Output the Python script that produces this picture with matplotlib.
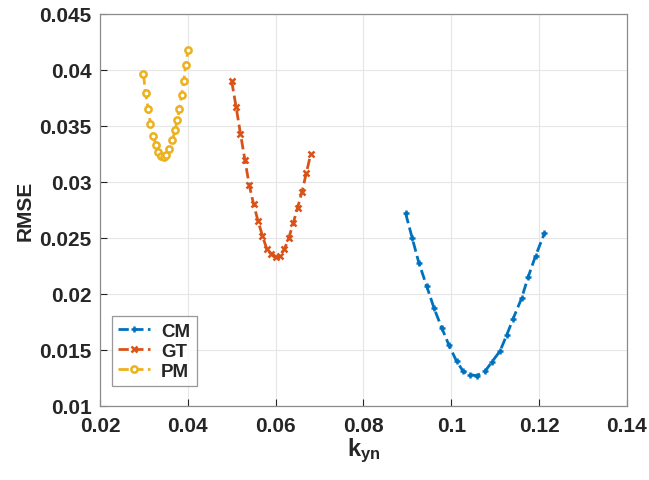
import matplotlib
matplotlib.use('Agg')
import matplotlib.pyplot as plt
import numpy as np

# RMSE against k_yn for the three models
cm_k = [0.0896, 0.0911, 0.0926, 0.0944, 0.0961, 0.0978, 0.0995, 0.1012, 0.1027, 0.1042,
        0.1058, 0.1077, 0.1092, 0.1111, 0.1126, 0.1141, 0.1160, 0.1175, 0.1192, 0.1212]
cm_rmse = [0.0272, 0.0250, 0.0228, 0.0207, 0.0187, 0.0170, 0.0154, 0.0140, 0.0131, 0.0128,
           0.0127, 0.0131, 0.0139, 0.0149, 0.0163, 0.0178, 0.0196, 0.0215, 0.0234, 0.0254]

gt_k = [0.050, 0.051, 0.052, 0.053, 0.054, 0.055, 0.056, 0.057, 0.058, 0.059,
        0.060, 0.061, 0.062, 0.063, 0.064, 0.065, 0.066, 0.067, 0.068]
gt_rmse = [0.0390, 0.0367, 0.0343, 0.0320, 0.0297, 0.0280, 0.0265, 0.0252, 0.0240, 0.0236,
           0.0233, 0.0234, 0.0240, 0.0250, 0.0263, 0.0277, 0.0291, 0.0308, 0.0325]

pm_k = [0.0299, 0.0304, 0.0310, 0.0315, 0.0321, 0.0328, 0.0333, 0.0339, 0.0345, 0.0351,
        0.0358, 0.0365, 0.0371, 0.0376, 0.0381, 0.0386, 0.0391, 0.0395, 0.0401]
pm_rmse = [0.0396, 0.0379, 0.0365, 0.0352, 0.0341, 0.0333, 0.0327, 0.0323, 0.0322, 0.0324,
           0.0329, 0.0337, 0.0346, 0.0355, 0.0365, 0.0378, 0.0390, 0.0404, 0.0418]

x_ticks = [0.02, 0.04, 0.06, 0.08, 0.1, 0.12, 0.14]
y_ticks = [0.01, 0.015, 0.02, 0.025, 0.03, 0.035, 0.04, 0.045]

plt.rcParams['font.family'] = ['Liberation Sans', 'DejaVu Sans']
plt.rcParams['font.weight'] = 'bold'
plt.rcParams['mathtext.fontset'] = 'custom'
plt.rcParams['mathtext.rm'] = 'Liberation Sans:bold'
plt.rcParams['mathtext.it'] = 'Liberation Sans:bold'
plt.rcParams['mathtext.bf'] = 'Liberation Sans:bold'

fig = plt.figure(figsize=(6.49, 4.81), dpi=100)
ax = fig.add_axes([0.154, 0.154, 0.812, 0.815])

ax.plot(cm_k, cm_rmse, '--', color='#0072BD', lw=2, marker='+', ms=5, mew=1.8, label='CM')
ax.plot(gt_k, gt_rmse, '--', color='#D95319', lw=2, marker='x', ms=4, mew=1.8, label='GT')
ax.plot(pm_k, pm_rmse, '--', color='#EDB120', lw=2, marker='o', ms=4.5, mew=1.8,
        mfc='white', label='PM')

ax.set_xlim(0.02, 0.14)
ax.set_ylim(0.01, 0.045)
ax.set_xticks(x_ticks)
ax.set_xticklabels(['0.02', '0.04', '0.06', '0.08', '0.1', '0.12', '0.14'])
ax.set_yticks(y_ticks)
ax.set_yticklabels(['0.01', '0.015', '0.02', '0.025', '0.03', '0.035', '0.04', '0.045'])
ax.tick_params(direction='in', length=5, width=0.8, color='#262626', labelsize=15,
               labelcolor='#262626', top=False, right=False)
ax.tick_params(axis='x', pad=7)
ax.tick_params(axis='y', pad=6)

ax.grid(True, color='#e6e6e6', lw=0.8)
ax.set_axisbelow(True)
for s in ax.spines.values():
    s.set_color('#8c8c8c')
    s.set_linewidth(0.9)

ax.set_ylabel('RMSE', fontsize=15, fontweight='bold', color='#262626', labelpad=3)
ax.set_xlabel(r'$\mathrm{k}_{\mathrm{yn}}$', fontsize=17, color='#262626', labelpad=1)

leg = ax.legend(loc='lower left', bbox_to_anchor=(0.022, 0.05), fontsize=13.5, frameon=True,
                fancybox=False, handlelength=1.7, handletextpad=0.6, borderpad=0.35,
                labelspacing=0.15, borderaxespad=0)
leg.get_frame().set_edgecolor('#7f7f7f')
leg.get_frame().set_linewidth(0.9)
for t in leg.get_texts():
    t.set_color('#262626')

plt.savefig('out.png', dpi=100)
plt.close()
